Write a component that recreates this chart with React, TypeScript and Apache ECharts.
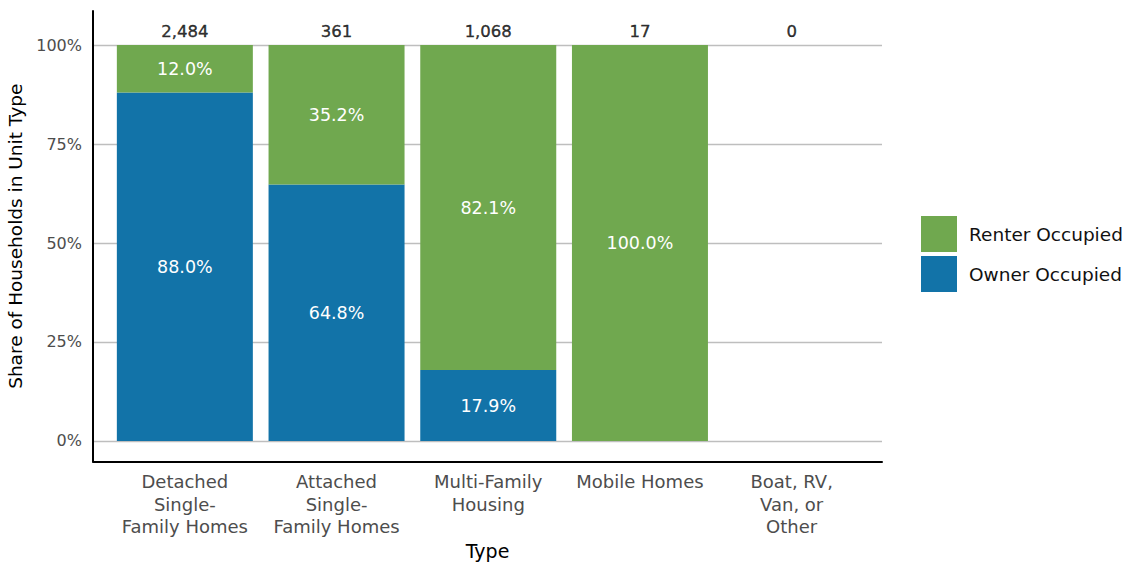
import React, { useEffect, useRef } from "react";
import * as echarts from "echarts";

// Housing unit types along the horizontal axis (one entry per bar)
const unitTypes = [
  "Detached\nSingle-\nFamily Homes",
  "Attached\nSingle-\nFamily Homes",
  "Multi-Family\nHousing",
  "Mobile Homes",
  "Boat, RV,\nVan, or\nOther",
];

// Share of households (percent) by tenure within each unit type
const ownerShare = [88.0, 64.8, 17.9, 0, 0];
const renterShare = [12.0, 35.2, 82.1, 100.0, 0];

// Household counts shown above each bar
const householdCounts = [2484, 361, 1068, 17, 0];

// Percent ticks on the vertical axis
const percentTicks = [0, 25, 50, 75, 100];

const GREEN = "#70a84f";
const BLUE = "#1273a8";
const FONT = "DejaVu Sans";

// Frame of the plotting panel and the inset used by the category band
const PANEL = { left: 93, right: 249, top: 11, bottom: 101.5 };
const BAND_INSET_LEFT = 16;
const BAND_INSET_RIGHT = 14.5;
const Y_MIN = -5.18;
const Y_MAX = 108.59;

export default function App() {
  const ref = useRef<HTMLDivElement>(null);

  useEffect(() => {
    if (!ref.current) return;
    const chart = echarts.init(ref.current, null, { renderer: "svg" });

    const pctLabel = (p: any) => {
      const v = typeof p.value === "number" ? p.value : 0;
      return v > 0 ? v.toFixed(1) + "%" : "";
    };

    chart.setOption({
      animation: false,
      textStyle: { fontFamily: FONT },
      grid: [
        // panel frame: axis lines, percent scale, reference lines
        { ...PANEL, containLabel: false, outerBoundsMode: "none" },
        // bars: category band slightly inset from the frame
        {
          left: PANEL.left + BAND_INSET_LEFT,
          right: PANEL.right + BAND_INSET_RIGHT,
          top: PANEL.top,
          bottom: PANEL.bottom,
          containLabel: false,
          outerBoundsMode: "none",
        },
      ],
      legend: {
        orient: "vertical",
        left: 921,
        top: 216,
        padding: 0,
        itemWidth: 36,
        itemHeight: 36,
        itemGap: 4,
        icon: "rect",
        data: ["Renter Occupied", "Owner Occupied"],
        textStyle: { fontSize: 18.5, color: "#111", padding: [0, 0, 0, 7] },
      },
      xAxis: [
        {
          gridIndex: 0,
          type: "value",
          min: 0,
          max: 1,
          name: "Type",
          nameLocation: "middle",
          nameGap: 80,
          nameTextStyle: { fontSize: 19, color: "#000" },
          splitLine: { show: false },
          axisTick: { show: false },
          axisLabel: { show: false },
          axisLine: { show: true, onZero: false, lineStyle: { color: "#000", width: 2 } },
        },
        {
          gridIndex: 1,
          type: "category",
          data: unitTypes,
          axisLine: { show: false },
          axisTick: { show: false },
          splitLine: { show: false },
          axisLabel: {
            interval: 0,
            fontSize: 18,
            lineHeight: 22.5,
            color: "#4d4d4d",
            margin: 9,
            align: "center",
          },
        },
      ],
      yAxis: [
        {
          gridIndex: 0,
          type: "value",
          min: Y_MIN,
          max: Y_MAX,
          name: "Share of Households in Unit Type",
          nameLocation: "middle",
          nameGap: 62,
          nameTextStyle: { fontSize: 18.5, color: "#000" },
          splitLine: { show: false },
          axisTick: { show: false },
          axisLine: { show: true, onZero: false, lineStyle: { color: "#000", width: 2 } },
          axisLabel: {
            customValues: percentTicks,
            formatter: (v: number) => v + "%",
            fontSize: 16,
            color: "#4d4d4d",
            margin: 11,
          },
        },
        {
          gridIndex: 1,
          type: "value",
          min: Y_MIN,
          max: Y_MAX,
          show: false,
          splitLine: { show: false },
        },
      ],
      series: [
        {
          // horizontal reference lines at each percent tick, behind the bars
          type: "line",
          xAxisIndex: 0,
          yAxisIndex: 0,
          data: [],
          z: 0,
          silent: true,
          markLine: {
            z: 0,
            silent: true,
            symbol: ["none", "none"],
            label: { show: false },
            lineStyle: { color: "#bebebe", width: 1.3, type: "solid" },
            data: percentTicks.map((t) => ({ yAxis: t })),
          },
        },
        {
          name: "Owner Occupied",
          type: "bar",
          xAxisIndex: 1,
          yAxisIndex: 1,
          stack: "tenure",
          z: 2,
          barWidth: 136,
          itemStyle: { color: BLUE },
          data: ownerShare,
          label: {
            show: true,
            position: "inside",
            color: "#fff",
            fontSize: 17.5,
            formatter: pctLabel,
          },
        },
        {
          name: "Renter Occupied",
          type: "bar",
          xAxisIndex: 1,
          yAxisIndex: 1,
          stack: "tenure",
          z: 2,
          barWidth: 136,
          itemStyle: { color: GREEN },
          data: renterShare,
          label: {
            show: true,
            position: "inside",
            color: "#fff",
            fontSize: 17.5,
            formatter: pctLabel,
          },
        },
        {
          // household totals printed above the top of each column
          type: "scatter",
          xAxisIndex: 1,
          yAxisIndex: 1,
          symbolSize: 0,
          z: 3,
          silent: true,
          data: householdCounts.map(() => 100),
          label: {
            show: true,
            position: "top",
            distance: 5,
            color: "#000",
            fontSize: 16.5,
            textBorderColor: "#000",
            textBorderWidth: 0.4,
            formatter: (p: any) => householdCounts[p.dataIndex].toLocaleString("en-US"),
          },
        },
      ],
    });

    return () => chart.dispose();
  }, []);

  return (
    <div
      ref={ref}
      style={{ position: "absolute", left: 0, top: 0, width: 1131, height: 563, background: "#fff" }}
    />
  );
}
